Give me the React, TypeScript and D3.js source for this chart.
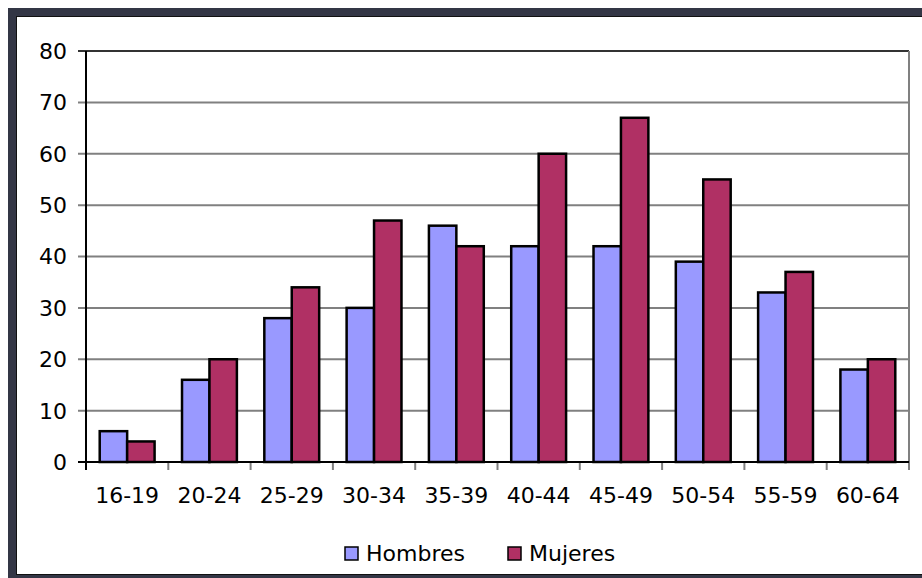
import React from "react";
import * as d3 from "d3";

const ageGroups = ["16-19", "20-24", "25-29", "30-34", "35-39", "40-44", "45-49", "50-54", "55-59", "60-64"];
const hombres = [6, 16, 28, 30, 46, 42, 42, 39, 33, 18];
const mujeres = [4, 20, 34, 47, 42, 60, 67, 55, 37, 20];
const yTicks = [0, 10, 20, 30, 40, 50, 60, 70, 80];
const seriesNames = ["Hombres", "Mujeres"];
const seriesColors = ["#9999ff", "#b03064"];

const W = 922;
const H = 578;
const font = "Verdana, 'DejaVu Sans', sans-serif";
const fs = 22;

export default function App() {
  const x = d3.scaleBand().domain(ageGroups).range([86, 909]).padding(0);
  const y = d3.scaleLinear().domain([0, 80]).range([462, 51]);
  const bw = x.bandwidth();
  const barW = bw / 3;
  const series = [hombres, mujeres];

  return (
    <svg
      width={W}
      height={H}
      style={{ position: "absolute", left: 0, top: 0, background: "#fff" }}
    >
      {/* outer frame */}
      <rect x={12} y={12} width={1000} height={567} fill="#fff" stroke="#333645" strokeWidth={8} />
      <rect x={16.5} y={16.5} width={1000} height={558} fill="none" stroke="#111" strokeWidth={1} />

      {/* gridlines */}
      {yTicks.map((t) => (
        <line
          key={"g" + t}
          x1={78}
          x2={909}
          y1={y(t)}
          y2={y(t)}
          stroke={t === 80 ? "#333" : "#808080"}
          strokeWidth={2}
        />
      ))}
      <line x1={909} x2={909} y1={y(80)} y2={470} stroke="#808080" strokeWidth={2} />

      {/* x ticks */}
      {ageGroups.map((g) => (
        <line key={"t" + g} x1={x(g)!} x2={x(g)!} y1={462} y2={470} stroke="#808080" strokeWidth={2} />
      ))}

      {/* bars */}
      {ageGroups.map((g, i) => (
        <g key={g}>
          {series.map((s, k) => (
            <rect
              key={k}
              x={x(g)! + bw / 6 + k * barW}
              y={y(s[i])}
              width={barW}
              height={y(0) - y(s[i])}
              fill={seriesColors[k]}
              stroke="#000"
              strokeWidth={2.5}
            />
          ))}
        </g>
      ))}

      {/* axes */}
      <line x1={86} x2={86} y1={y(80)} y2={470} stroke="#000" strokeWidth={2} />
      <line x1={78} x2={909} y1={y(0)} y2={y(0)} stroke="#000" strokeWidth={2} />

      {/* y labels */}
      {yTicks.map((t) => (
        <text
          key={"l" + t}
          x={67}
          y={y(t)}
          dy="0.36em"
          textAnchor="end"
          fontFamily={font}
          fontSize={fs}
          fill="#000"
        >
          {t}
        </text>
      ))}

      {/* x labels */}
      {ageGroups.map((g) => (
        <text
          key={"x" + g}
          x={x(g)! + bw / 2}
          y={495}
          dy="0.36em"
          textAnchor="middle"
          fontFamily={font}
          fontSize={fs}
          fill="#000"
        >
          {g}
        </text>
      ))}

      {/* legend */}
      {seriesNames.map((n, k) => {
        const lx = k === 0 ? 345 : 508;
        return (
          <g key={n}>
            <rect x={lx} y={547} width={13} height={13} fill={seriesColors[k]} stroke="#000" strokeWidth={1.5} />
            <text x={lx + 21} y={553.5} dy="0.36em" fontFamily={font} fontSize={fs} fill="#000">
              {n}
            </text>
          </g>
        );
      })}
    </svg>
  );
}
